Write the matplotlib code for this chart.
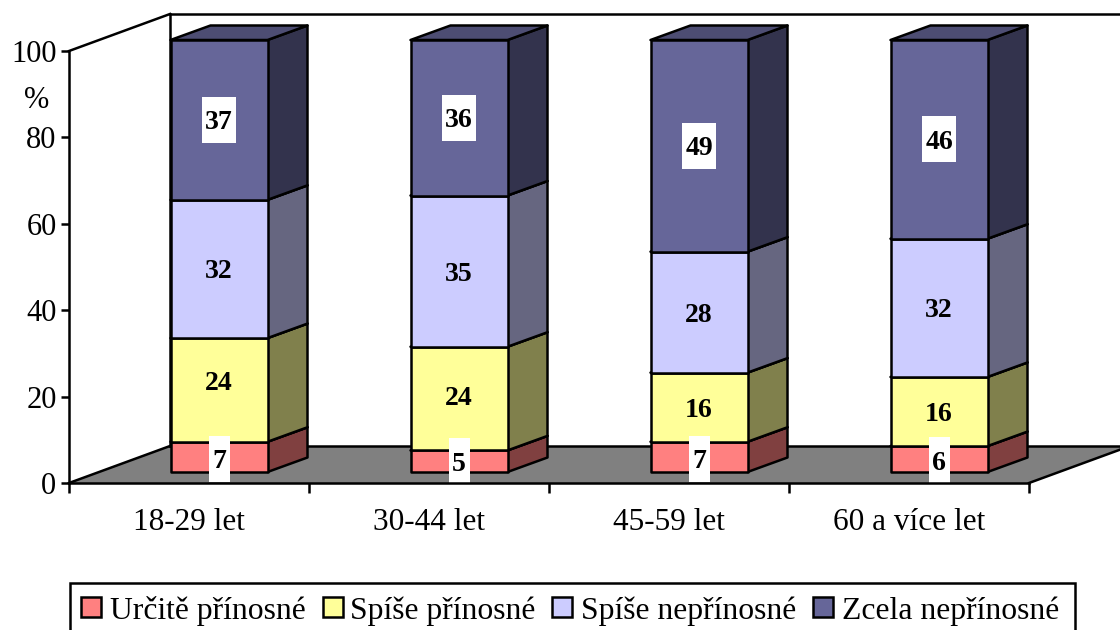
import matplotlib
matplotlib.use('Agg')
import matplotlib.pyplot as plt
from matplotlib.patches import Polygon, Rectangle

categories = ['18-29 let', '30-44 let', '45-59 let', '60 a více let']
series_names = ['Určitě přínosné', 'Spíše přínosné', 'Spíše nepřínosné', 'Zcela nepřínosné']
urcite = [7, 5, 7, 6]
spise_pri = [24, 24, 16, 16]
spise_nepri = [32, 35, 28, 32]
zcela = [37, 36, 49, 46]
y_ticks = [0, 20, 40, 60, 80, 100]

front_colors = ['#FF8080', '#FFFF99', '#CCCCFF', '#666699']
side_colors = ['#804040', '#80804C', '#666680', '#33334D']
top_colors = ['#BF6060', '#BFBF73', '#9999BF', '#4D4D73']

W, H = 1120, 630
LW = 1.8
FONT = 'Liberation Serif'
# px na jednostki danych
PX_X = 240.0
PX_Y = 4.32

fig = plt.figure(figsize=(W / 100, H / 100), dpi=100)
ax = fig.add_axes([69 / W, (H - 483) / H, 960 / W, 432 / H])
ax.set_xlim(0, 4)
ax.set_ylim(0, 100)
ax.patch.set_alpha(0)

# glebokosc sciany i slupka
wall_dx, wall_dy = 101 / PX_X, 37 / PX_Y
bar_dx, bar_dy = 40 / PX_X, 14.5 / PX_Y
off_x, off_y = 30 / PX_X, 11 / PX_Y
bar_w = 97 / PX_X

# przesuniecia etykiet w px (zolta seria nie jest idealnie na srodku)
label_shift = {(0, 1): 9, (1, 1): 3, (0, 0): 2, (2, 0): 2, (3, 0): 1}
boxed_series = [0, 3]


def poly(points, **kw):
    ax.add_patch(Polygon(points, closed=True, clip_on=False, **kw))


# podloga i sciana
poly([(0, 0), (4, 0), (4 + wall_dx, wall_dy), (wall_dx, wall_dy)],
     facecolor='#808080', edgecolor='none', zorder=1)
for xs, ys in [([0, wall_dx], [0, wall_dy]),
               ([4, 4 + wall_dx], [0, wall_dy]),
               ([wall_dx, 4 + wall_dx], [wall_dy, wall_dy]),
               ([0, wall_dx], [100, 100 + wall_dy]),
               ([wall_dx, wall_dx], [wall_dy, 100 + wall_dy]),
               ([wall_dx, 4 + wall_dx], [100 + wall_dy, 100 + wall_dy])]:
    ax.plot(xs, ys, color='k', lw=LW, clip_on=False, zorder=2)

# slupki
all_series = [urcite, spise_pri, spise_nepri, zcela]
for i in range(len(categories)):
    x0 = i + 0.5 + off_x - bar_w / 2
    x1 = x0 + bar_w
    bottom = 0
    for s, values in enumerate(all_series):
        v = values[i]
        y0 = bottom + off_y
        y1 = y0 + v
        poly([(x1, y0), (x1 + bar_dx, y0 + bar_dy), (x1 + bar_dx, y1 + bar_dy), (x1, y1)],
             facecolor=side_colors[s], edgecolor='k', lw=LW, joinstyle='round', zorder=3)
        poly([(x0, y1), (x1, y1), (x1 + bar_dx, y1 + bar_dy), (x0 + bar_dx, y1 + bar_dy)],
             facecolor=top_colors[s], edgecolor='k', lw=LW, joinstyle='round', zorder=3)
        poly([(x0, y0), (x1, y0), (x1, y1), (x0, y1)],
             facecolor=front_colors[s], edgecolor='k', lw=LW, joinstyle='round', zorder=4)
        bottom += v

# etykiety wartosci
for i in range(len(categories)):
    xc = i + 0.5 + off_x
    bottom = 0
    for s, values in enumerate(all_series):
        v = values[i]
        yc = bottom + off_y + v / 2 + label_shift.get((i, s), 0) / PX_Y * (1 if s == 1 else -1)
        if s in boxed_series:
            box_w = (8 + 13 * len(str(v))) / PX_X
            box_h = 46 / PX_Y
            ax.add_patch(Rectangle((xc - box_w / 2, yc - box_h / 2), box_w, box_h, facecolor='white',
                                   edgecolor='none', clip_on=False, zorder=5))
        ax.text(xc, yc, str(v), ha='center', va='center_baseline', family=FONT, fontweight='bold',
                fontsize=20, color='k', zorder=6)
        bottom += v

# osie
for side in ['top', 'right']:
    ax.spines[side].set_visible(False)
for side in ['left', 'bottom']:
    ax.spines[side].set_linewidth(LW)
    ax.spines[side].set_zorder(7)
ax.set_yticks(y_ticks)
ax.set_yticklabels([str(t) for t in y_ticks], family=FONT, fontsize=22)
ax.tick_params(axis='y', length=6, width=LW, pad=3)
ax.set_xticks(range(5))
ax.set_xticklabels([])
ax.tick_params(axis='x', which='major', length=7, width=LW)
ax.set_xticks([i + 0.5 for i in range(4)], minor=True)
ax.set_xticklabels(categories, minor=True, family=FONT, fontsize=22.5)
ax.tick_params(axis='x', which='minor', length=0, pad=18)
ax.text(37 / W, (H - 100) / H, '%', transform=fig.transFigure, ha='center', va='center',
        family=FONT, fontsize=22)

# legenda (dolna krawedz ucieta przez obraz)
fig.add_artist(Rectangle((70 / W, -0.02), 1005 / W, (H - 583) / H + 0.02, transform=fig.transFigure,
                         facecolor='white', edgecolor='k', lw=LW))
swatch_x = [81, 323, 552, 813]
label_x = [110, 350, 581, 842]
for s, name in enumerate(series_names):
    fig.add_artist(Rectangle((swatch_x[s] / W, (H - 617) / H), 20 / W, 20 / H, transform=fig.transFigure,
                             facecolor=front_colors[s], edgecolor='k', lw=LW))
    fig.text(label_x[s] / W, (H - 619) / H, name, ha='left', va='baseline', family=FONT, fontsize=22.8)

fig.savefig('out.png', dpi=100)
